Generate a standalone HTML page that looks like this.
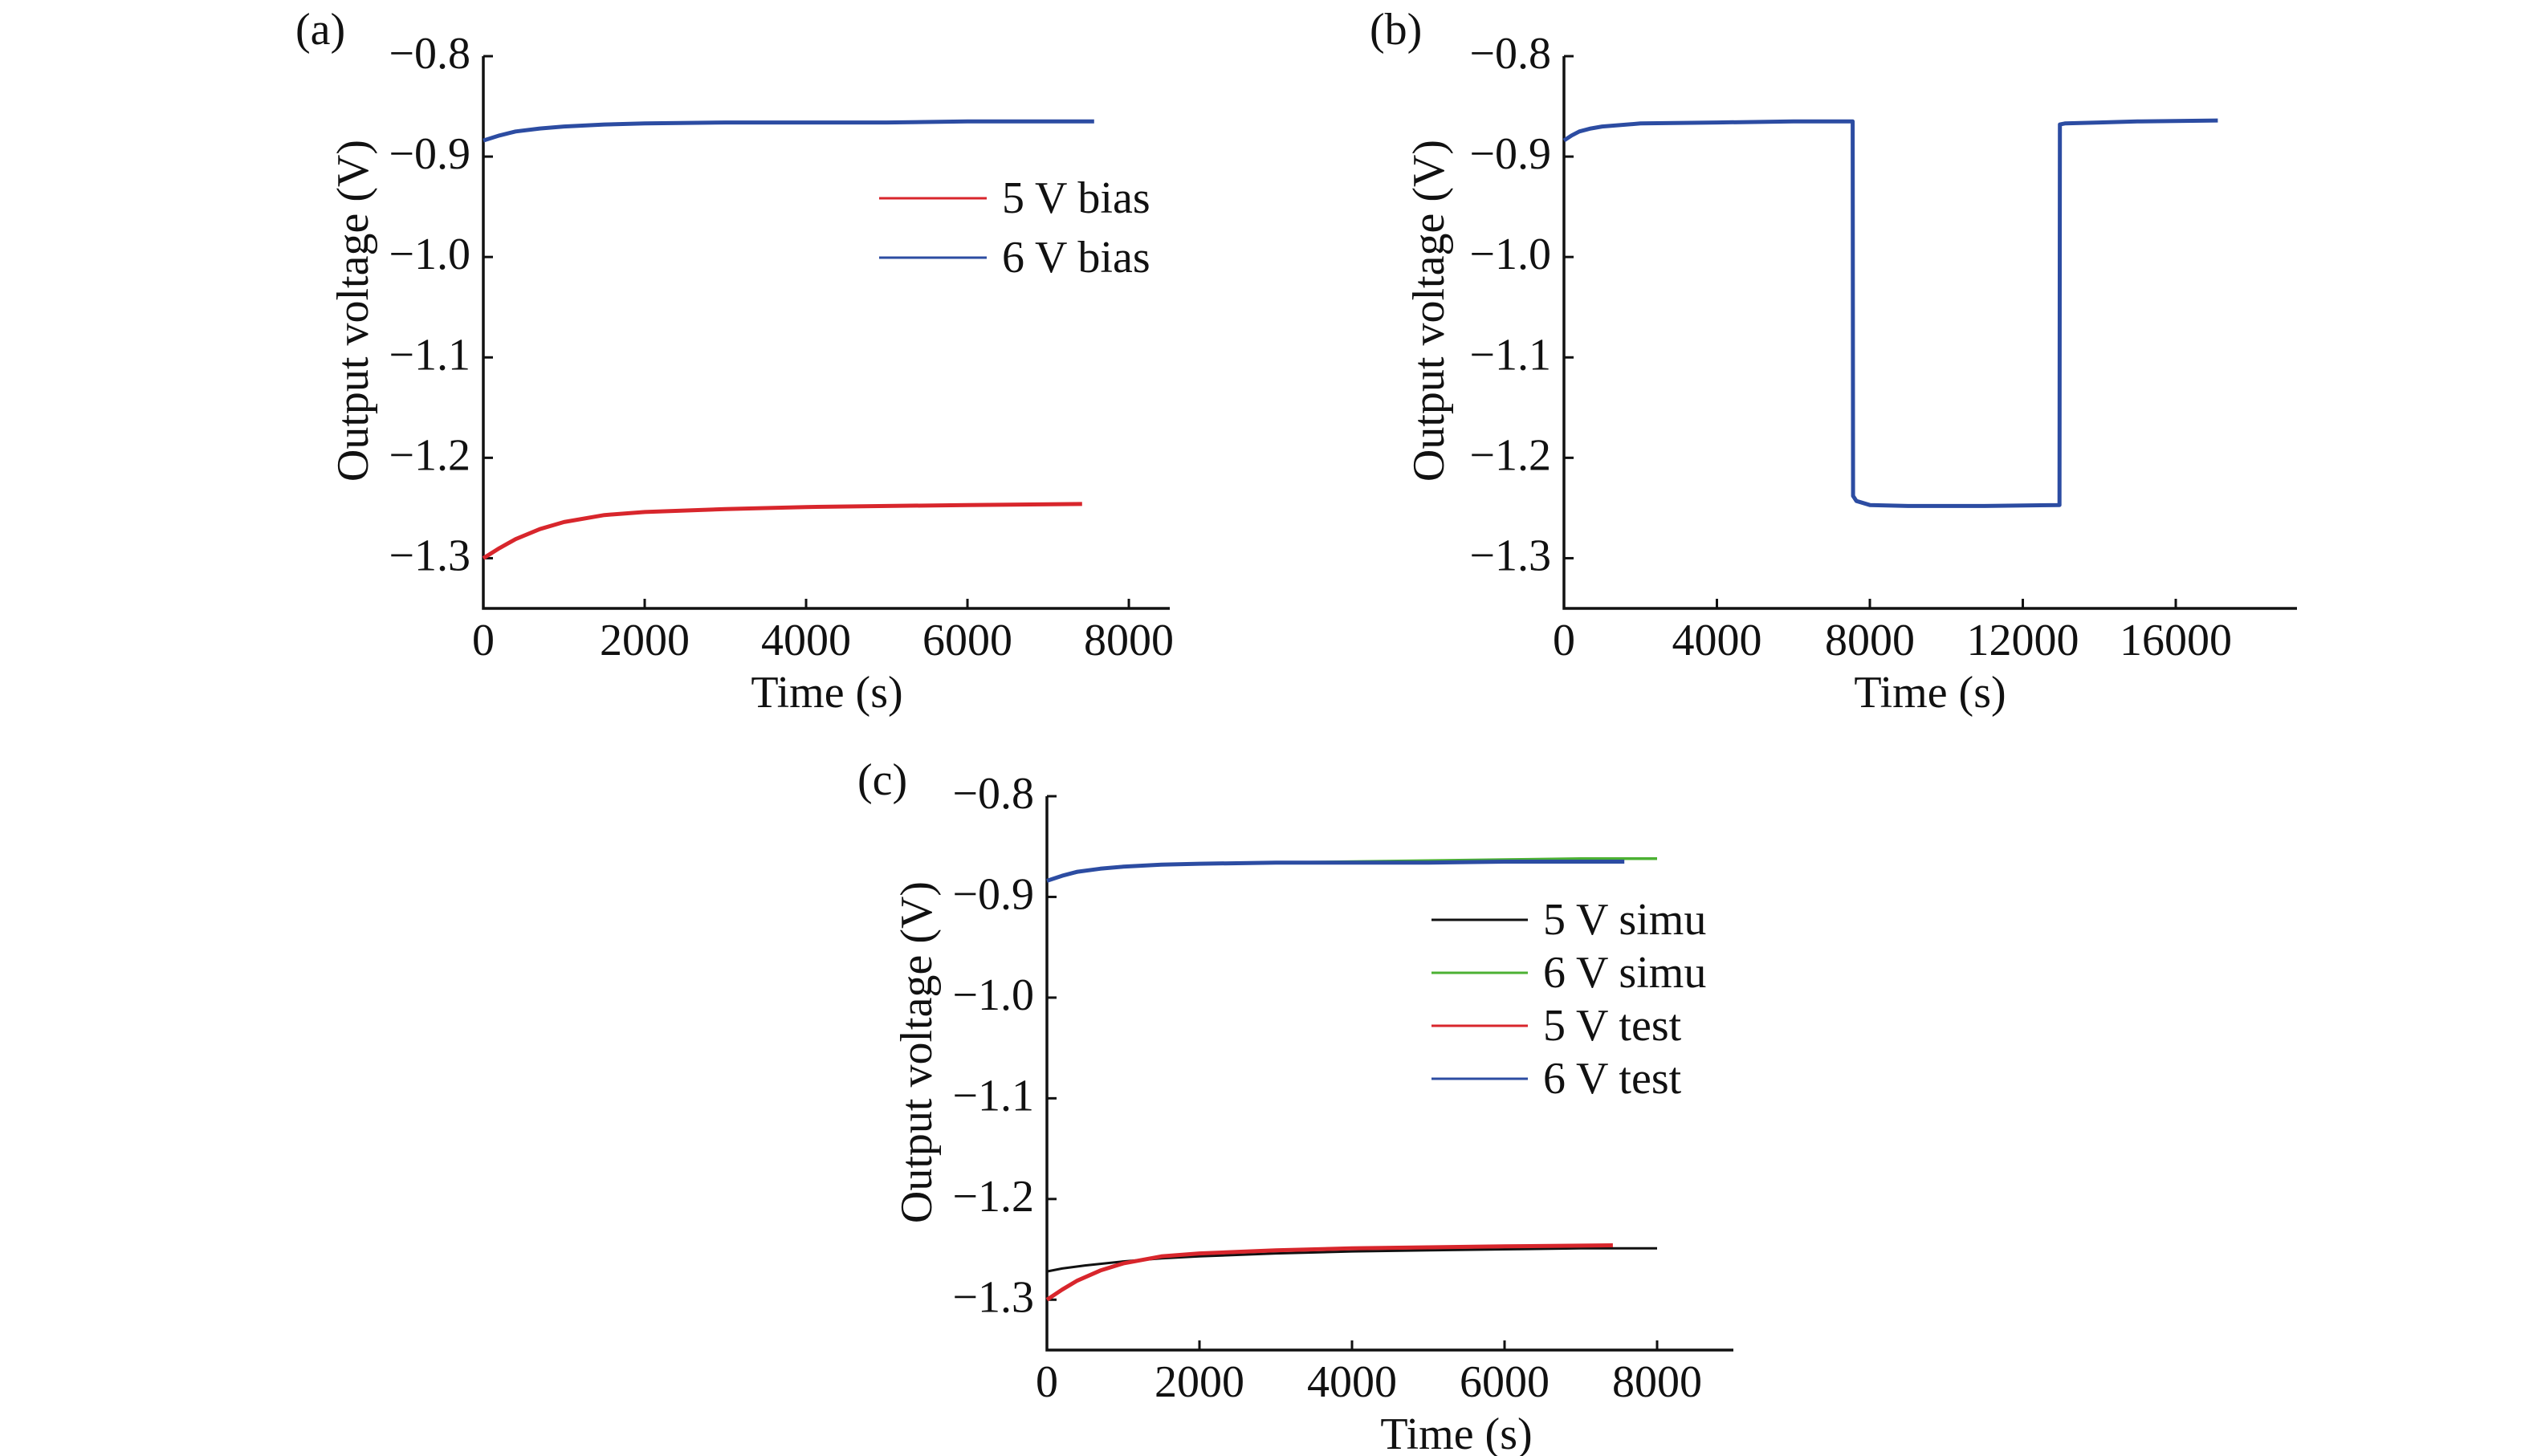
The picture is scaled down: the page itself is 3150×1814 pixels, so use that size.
<!DOCTYPE html>
<html><head><meta charset="utf-8"><style>
html,body{margin:0;padding:0;background:#fff;}
svg{display:block;font-family:"Liberation Serif","Times New Roman",serif;}
</style></head><body>
<svg id="fig" width="3150" height="1814" viewBox="0 0 3150 1814" xmlns="http://www.w3.org/2000/svg"></svg>
<script>
// ---- data (panel a) ----
const aT5 = [0,200,400,700,1000,1500,2000,3000,4000,5000,6000,7420];
const aV5 = [-1.300,-1.290,-1.281,-1.271,-1.264,-1.257,-1.254,-1.251,-1.249,-1.248,-1.247,-1.246];
const aT6 = [0,200,400,700,1000,1500,2000,3000,4000,5000,6000,7570];
const aV6 = [-0.884,-0.879,-0.875,-0.872,-0.870,-0.868,-0.867,-0.866,-0.866,-0.866,-0.865,-0.865];
// ---- data (panel b) ----
const bT = [0,200,400,700,1000,2000,4000,6000,7550,7560,7650,8000,9000,11000,12960,12970,13100,14000,15000,17100];
const bV = [-0.884,-0.879,-0.875,-0.872,-0.870,-0.867,-0.866,-0.865,-0.865,-1.238,-1.243,-1.247,-1.248,-1.248,-1.247,-0.868,-0.867,-0.866,-0.865,-0.864];
// ---- data (panel c) ----
const cTsim = [0,200,500,1000,1500,2000,3000,4000,5000,6000,7000,8000];
const cV5sim = [-1.272,-1.269,-1.266,-1.262,-1.259,-1.257,-1.254,-1.252,-1.251,-1.250,-1.249,-1.249];
const cV6sim = [-0.884,-0.879,-0.874,-0.870,-0.868,-0.867,-0.866,-0.865,-0.864,-0.863,-0.862,-0.862];
const cT5 = aT5, cV5 = aV5, cT6 = aT6, cV6 = aV6;
const yTicks = [-0.8,-0.9,-1.0,-1.1,-1.2,-1.3];
const yTickLabels = ["\u22120.8","\u22120.9","\u22121.0","\u22121.1","\u22121.2","\u22121.3"];
const xTicksA = [0,2000,4000,6000,8000];
const xTicksB = [0,4000,8000,12000,16000];

const NS="http://www.w3.org/2000/svg";
const svg=document.getElementById('fig');
function mk(tag,attrs,parent){const e=document.createElementNS(NS,tag);for(const k in attrs)e.setAttribute(k,attrs[k]);(parent||svg).appendChild(e);return e;}

function panel(p){
  const g=mk('g',{});
  
  
  const sx=v=>p.x0+(v-p.xmin)/(p.xmax-p.xmin)*(p.x1-p.x0);
  const sy=v=>p.yb+(v-(-1.35))/((-0.8)-(-1.35))*(p.yt-p.yb);
  // axes
  const ax=mk('path',{d:`M${p.x0},${sy(-0.8)} L${p.x0},${p.yb} L${p.x1},${p.yb}`,fill:'none',stroke:'#111','stroke-width':3.5},g);
  
  
  yTicks.forEach((v,i)=>{
    mk('line',{x1:p.x0,x2:p.x0+12,y1:sy(v),y2:sy(v),stroke:'#111','stroke-width':3},g);
    const t=mk('text',{x:p.x0-16,y:sy(v)+15,'text-anchor':'end','font-size':56,fill:'#111'},g);
    t.textContent=yTickLabels[i];
    
    
  });
  p.xticks.forEach(v=>{
    mk('line',{x1:sx(v),x2:sx(v),y1:p.yb,y2:p.yb-12,stroke:'#111','stroke-width':3},g);
    const t=mk('text',{x:sx(v),y:p.yb+58,'text-anchor':'middle','font-size':56,fill:'#111'},g);
    t.textContent=String(v);
    
    
  });
  const xt=mk('text',{x:p.xlabX,y:p.yb+123,'text-anchor':'middle','font-size':56,fill:'#111'},g);
  xt.textContent='Time (s)';
  
  
  const yt=mk('text',{x:0,y:0,'text-anchor':'middle','font-size':56,fill:'#111',transform:`translate(${p.ylabX},${p.ylabY}) rotate(-90)`},g);
  yt.textContent='Output voltage (V)';
  
  
  const pl=mk('text',{x:p.labX,y:p.labY,'font-size':56,fill:'#111'},g);
  pl.textContent='('+p.id+')';
  
  
  p.series.forEach(s=>{
    const d=s.t.map((t,i)=>(i?'L':'M')+sx(t).toFixed(1)+','+sy(s.v[i]).toFixed(1)).join(' ');
    const path=mk('path',{d:d,fill:'none',stroke:s.color,'stroke-width':s.w,'stroke-linejoin':'round'},g);
    
    
  });
  (p.legend||[]).forEach((L,i)=>{
    const y=p.legY+i*p.legDy;
    const ln=mk('line',{x1:p.legX,x2:p.legX+p.legW,y1:y,y2:y,stroke:L.color,'stroke-width':3},g);
    
    
    const t=mk('text',{x:p.legX+p.legW+19,y:y+18,'font-size':56,fill:'#111'},g);
    t.textContent=L.label;
    
    
  });
}
const RED='#d8262c',BLUE='#2c4ca2',GREEN='#4cb133',BLACK='#111';
panel({id:'a',x0:602,x1:1457,xmin:0,xmax:8507,yt:70,yb:758,xticks:xTicksA,xlabX:1030,ylabX:458,ylabY:387,labX:368,labY:55,
  series:[{name:'5v-bias',t:aT5,v:aV5,color:RED,w:5},{name:'6v-bias',t:aT6,v:aV6,color:BLUE,w:5}],
  legend:[{label:'5 V bias',color:RED},{label:'6 V bias',color:BLUE}],legX:1095,legW:134,legY:247,legDy:74});
panel({id:'b',x0:1948,x1:2861,xmin:0,xmax:19170,yt:70,yb:758,xticks:xTicksB,xlabX:2404,ylabX:1798,ylabY:387,labX:1706,labY:55,
  series:[{name:'bias-switch',t:bT,v:bV,color:BLUE,w:5}]});
panel({id:'c',x0:1304,x1:2159,xmin:0,xmax:9000,yt:992,yb:1682,xticks:xTicksA,xlabX:1814,ylabX:1160,ylabY:1311,labX:1068,labY:990,
  series:[{name:'5v-simu',t:cTsim,v:cV5sim,color:BLACK,w:3},{name:'6v-simu',t:cTsim,v:cV6sim,color:GREEN,w:3.5},
          {name:'5v-test',t:cT5,v:cV5,color:RED,w:5},{name:'6v-test',t:cT6,v:cV6,color:BLUE,w:5}],
  legend:[{label:'5 V simu',color:BLACK},{label:'6 V simu',color:GREEN},{label:'5 V test',color:RED},{label:'6 V test',color:BLUE}],
  legX:1783,legW:120,legY:1146,legDy:66});
</script>
</body></html>
